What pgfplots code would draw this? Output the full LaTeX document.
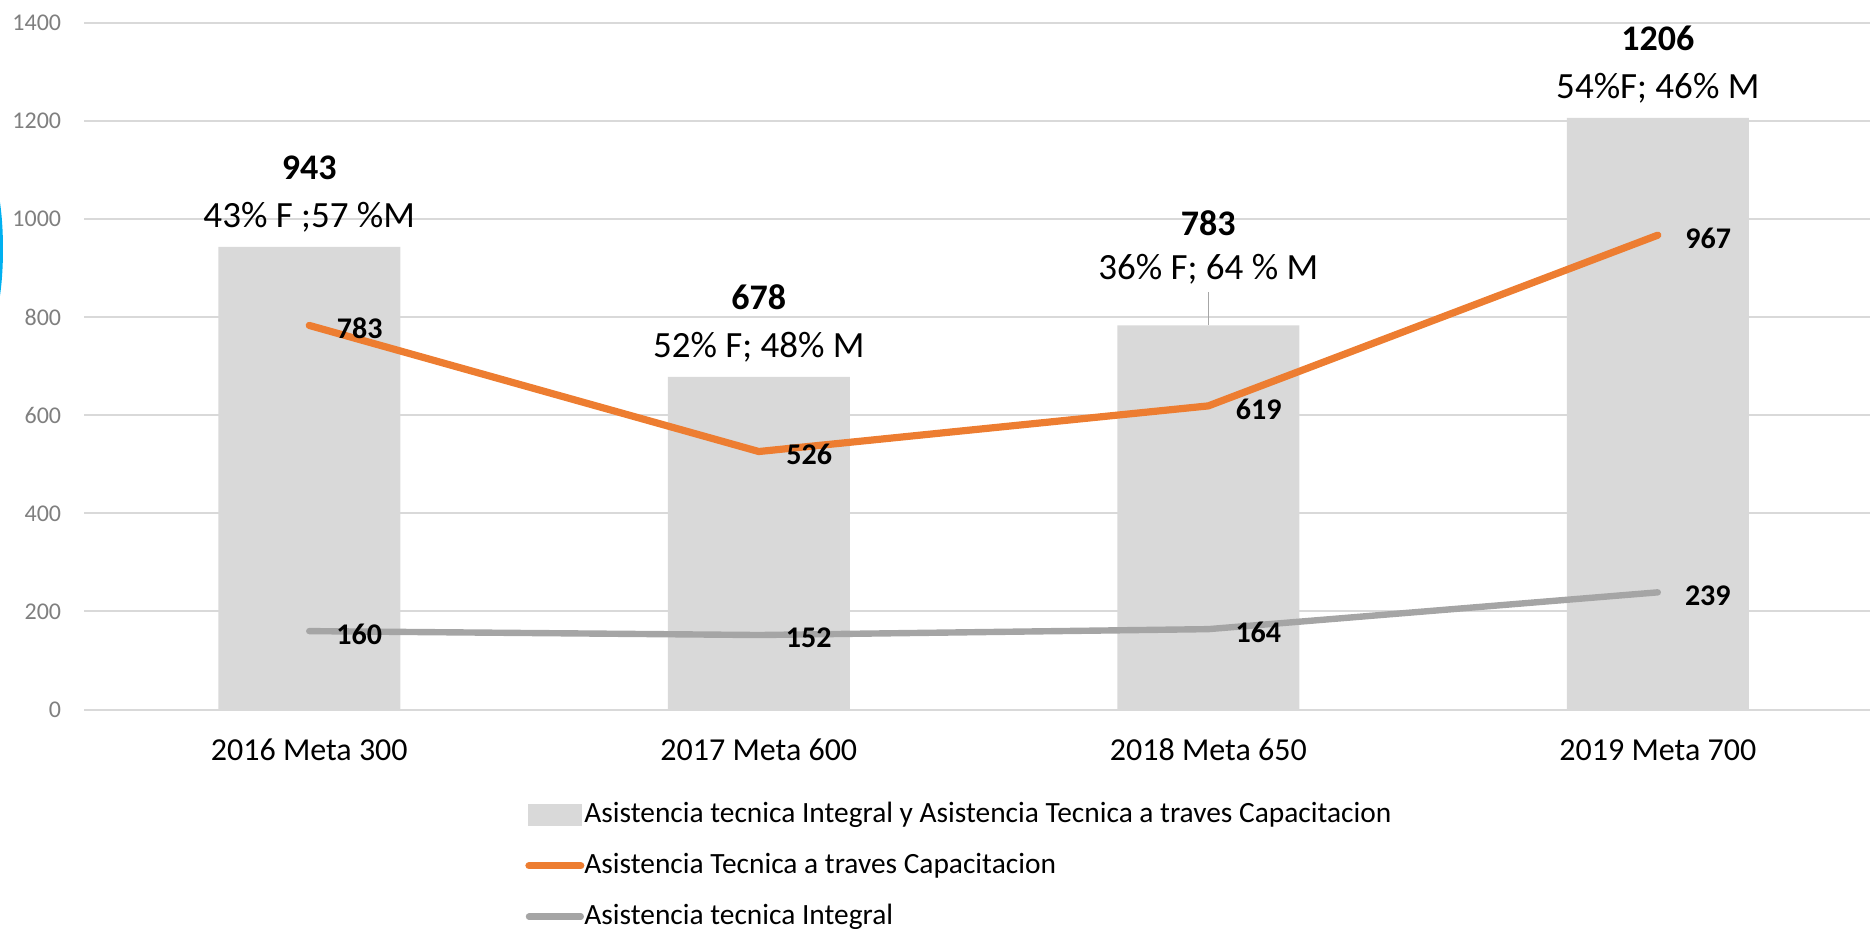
\documentclass[border=0pt]{standalone}
\usepackage{pgfplots}
\pgfplotsset{compat=1.18}
\usepackage{fontspec}
\setmainfont{Carlito}
\definecolor{barcol}{HTML}{D9D9D9}
\definecolor{orangecol}{HTML}{ED7D31}
\definecolor{graycol}{HTML}{A5A5A5}
\definecolor{gridcol}{HTML}{D9D9D9}
\definecolor{tickcol}{HTML}{7F7F7F}
\definecolor{bluecol}{HTML}{00B0F0}
\begin{document}
\begin{tikzpicture}
\useasboundingbox (-42.25pt,-109.2pt) rectangle (892.75pt,354.8pt);
\fill[bluecol] (-48.75pt,230.3pt) ellipse [x radius=8pt, y radius=40pt];
\begin{axis}[
  at={(0,0)}, anchor=south west,
  scale only axis,
  width=892.75pt, height=343.45pt,
  xmin=-0.5, xmax=3.472,
  ymin=0, ymax=1400,
  clip=false,
  axis line style={draw=none},
  major tick length=0pt,
  ytick={0,200,...,1400},
  ymajorgrids,
  grid style={gridcol, line width=1pt},
  xtick={0,1,2,3},
  xticklabels={2016 Meta 300,2017 Meta 600,2018 Meta 650,2019 Meta 700},
  /pgf/number format/assume math mode=true,
  /pgf/number format/1000 sep={},
  yticklabel style={font=\fontsize{12pt}{14pt}\selectfont, text=tickcol, inner sep=0pt, anchor=east, xshift=-11.5pt},
  xticklabel style={font=\fontsize{16pt}{19pt}\selectfont, inner sep=0pt, anchor=base, yshift=-25.5pt},
  legend style={at={(0.2467,-0.132)}, anchor=north west, draw=none, fill=none, inner sep=0pt,
    font=\fontsize{14.7pt}{17pt}\selectfont, row sep=11.5pt,
    nodes={inner sep=0pt, text height=11pt, text depth=3pt},
    /tikz/every even column/.append style={column sep=2pt}},
  legend cell align=left,
]
\addplot[ybar, bar width=91pt, fill=barcol, draw=none,
  legend image code/.code={\fill[barcol] (0pt,-5.5pt) rectangle (27pt,5.5pt);}]
  coordinates {(0,943) (1,678) (2,783) (3,1206)};
\addlegendentry{Asistencia tecnica Integral y Asistencia Tecnica a traves Capacitacion}
\addplot[orangecol, line width=3.6pt, line cap=round, line join=round,
  nodes near coords,
  every node near coord/.style={anchor=west, xshift=12pt, yshift=-1.5pt, text=black, inner sep=0pt, font=\fontsize{15pt}{17pt}\selectfont\bfseries},
  legend image code/.code={\draw[orangecol, line width=3.6pt, line cap=round] (0.3pt,0pt) -- (26.2pt,0pt);}]
  coordinates {(0,783) (1,526) (2,619) (3,967)};
\addlegendentry{Asistencia Tecnica a traves Capacitacion}
\addplot[graycol, line width=3.2pt, line cap=round, line join=round,
  nodes near coords,
  every node near coord/.style={anchor=west, xshift=12pt, yshift=-1.5pt, text=black, inner sep=0pt, font=\fontsize{15pt}{17pt}\selectfont\bfseries},
  legend image code/.code={\draw[graycol, line width=3.2pt, line cap=round] (0.3pt,0pt) -- (26.2pt,0pt);}]
  coordinates {(0,160) (1,152) (2,164) (3,239)};
\addlegendentry{Asistencia tecnica Integral}
% bar labels
\tikzset{numlab/.style={anchor=base, inner sep=0pt, font=\fontsize{18pt}{20pt}\selectfont\bfseries},
         pctlab/.style={anchor=base, inner sep=0pt, font=\fontsize{18.5pt}{20pt}\selectfont}}
\node[numlab, yshift=33.7pt] at (axis cs:0,943) {943};
\node[pctlab, yshift=9.7pt] at (axis cs:0,943) {43\% F ;57 \%M};
\node[numlab, yshift=33.7pt] at (axis cs:1,678) {678};
\node[pctlab, yshift=9.7pt] at (axis cs:1,678) {52\% F; 48\% M};
\node[numlab, yshift=45.2pt] at (axis cs:2,783) {783};
\node[pctlab, yshift=23.2pt] at (axis cs:2,783) {36\% F; 64 \% M};
\draw[gray!70, line width=0.6pt] (axis cs:2,783) -- ++(0pt,16.75pt);
\node[numlab, yshift=33.7pt] at (axis cs:3,1206) {1206};
\node[pctlab, yshift=9.7pt] at (axis cs:3,1206) {54\%F; 46\% M};
\end{axis}
\end{tikzpicture}
\end{document}
